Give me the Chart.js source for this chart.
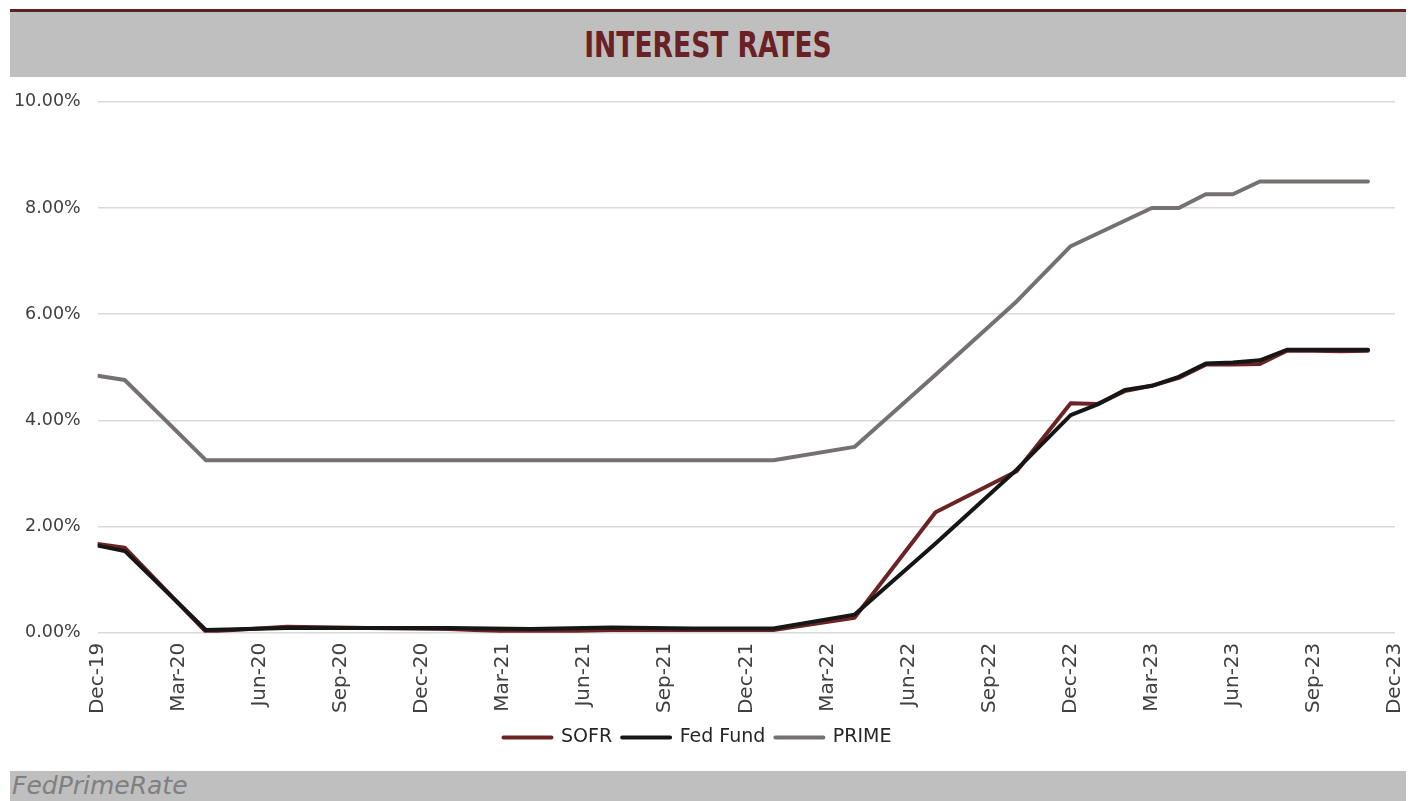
<!DOCTYPE html>
<html>
<head>
<meta charset="utf-8">
<script src="https://cdn.jsdelivr.net/npm/chart.js@4.4.1/dist/chart.umd.min.js"></script>
<style>
  html, body { margin: 0; padding: 0; background: #ffffff; width: 1416px; height: 801px; overflow: hidden; }
  #topline { position: absolute; left: 10px; top: 9px; width: 1396px; height: 3px; background: #5E2222; }
  #banner { position: absolute; left: 10px; top: 12px; width: 1396px; height: 65px; background: #BFBFBF;
            text-align: center; line-height: 65px; }
  #banner span { display: inline-block; transform: scaleX(0.82); transform-origin: center;
            font-family: "DejaVu Sans Condensed", "DejaVu Sans", sans-serif;
            font-weight: bold; font-size: 36px; color: #6A2126; }
  #wrap { position: absolute; left: 0; top: 80px; width: 1416px; height: 691px; }
  #footer { position: absolute; left: 10px; top: 771px; width: 1396px; height: 30px; background: #BFBFBF;
            font-family: "DejaVu Sans", sans-serif; font-style: italic; font-size: 25px; color: #808080;
            line-height: 30px; padding-left: 2px; box-sizing: border-box; }
</style>
</head>
<body>
<div id="topline"></div>
<div id="banner"><span>INTEREST RATES</span></div>
<div id="wrap"><canvas id="c"></canvas></div>
<div id="footer">FedPrimeRate</div>
<script>
// ---- Data ----
const dates = ['Dec-19','Jan-20','Apr-20','Jul-20','Oct-20','Jan-21','Apr-21','Jul-21','Oct-21','Jan-22',
               'Apr-22','Jul-22','Oct-22','Dec-22','Jan-23','Feb-23','Mar-23','Apr-23','May-23','Jun-23',
               'Jul-23','Aug-23','Sep-23','Oct-23','Nov-23'];
const sofr  = [1.67,1.60,0.02,0.11,0.09,0.07,0.01,0.05,0.05,0.05,0.28,2.27,3.04,4.32,4.31,4.55,4.65,4.80,5.05,5.05,5.06,5.31,5.31,5.30,5.31];
const fedFund = [1.64,1.54,0.05,0.09,0.09,0.09,0.07,0.10,0.08,0.08,0.34,1.68,3.07,4.10,4.30,4.57,4.65,4.82,5.07,5.09,5.13,5.33,5.33,5.33,5.33];
const prime = [4.84,4.76,3.25,3.25,3.25,3.25,3.25,3.25,3.25,3.25,3.50,4.86,6.24,7.28,7.52,7.76,8.00,8.00,8.26,8.26,8.50,8.50,8.50,8.50,8.50];
const xTickLabels = ['Dec-19','Mar-20','Jun-20','Sep-20','Dec-20','Mar-21','Jun-21','Sep-21','Dec-21',
                     'Mar-22','Jun-22','Sep-22','Dec-22','Mar-23','Jun-23','Sep-23','Dec-23'];
const yTicks = [0, 2, 4, 6, 8, 10];
const seriesNames = ['SOFR', 'Fed Fund', 'PRIME'];

// month offset from Dec-19
const MON = {Jan:1,Feb:2,Mar:3,Apr:4,May:5,Jun:6,Jul:7,Aug:8,Sep:9,Oct:10,Nov:11,Dec:12};
function monthIndex(s) {
  const [m, y] = s.split('-');
  return (2000 + parseInt(y, 10) - 2019) * 12 + MON[m] - 12;
}
const xs = dates.map(monthIndex);
const toPts = arr => arr.map((v, i) => ({x: xs[i], y: v}));

const FONT = '"DejaVu Sans", sans-serif';
Chart.defaults.font.family = FONT;
Chart.defaults.color = '#404040';

function ds(label, data, color, order) {
  return { label, data: toPts(data), borderColor: color, backgroundColor: color, borderWidth: 4,
           pointRadius: 0, pointHoverRadius: 0, tension: 0, fill: false, order,
           borderJoinStyle: 'round', borderCapStyle: 'round' };
}

new Chart(document.getElementById('c'), {
  type: 'line',
  data: {
    datasets: [
      ds(seriesNames[0], sofr, '#6B2323', 3),
      ds(seriesNames[1], fedFund, '#161616', 2),
      ds(seriesNames[2], prime, '#767171', 1)
    ]
  },
  options: {
    responsive: true,
    maintainAspectRatio: false,
    devicePixelRatio: 1,
    animation: false,
    layout: { padding: { left: 0, right: 21, top: 21.7, bottom: 14 } },
    plugins: {
      title: { display: false },
      tooltip: { enabled: false },
      legend: {
        position: 'bottom',
        labels: {
          boxWidth: 48, boxHeight: 0, padding: 10,
          font: { size: 19, family: FONT }, color: '#262626',
          sort: (a, b) => a.datasetIndex - b.datasetIndex
        }
      }
    },
    scales: {
      x: {
        type: 'linear', min: 0, max: 48,
        afterBuildTicks: (scale) => { scale.ticks = xTickLabels.map((_, i) => ({ value: i * 3 })); },
        ticks: {
          autoSkip: false, maxRotation: 90, minRotation: 90, padding: 10,
          font: { size: 20, family: FONT, lineHeight: 0.5 }, color: '#404040',
          callback: (v) => xTickLabels[Math.round(v / 3)]
        },
        grid: { display: false, drawTicks: false },
        border: { display: false },
        afterFit: (scale) => { scale.height = 85.3; }
      },
      y: {
        min: 0, max: 10,
        afterBuildTicks: (scale) => { scale.ticks = yTicks.map(v => ({ value: v })); },
        ticks: {
          padding: 17, font: { size: 17.5, family: FONT, lineHeight: 0.55 }, color: '#404040',
          callback: (v) => v.toFixed(2) + '%'
        },
        grid: { color: '#D9D9D9', lineWidth: 1.5, drawTicks: false },
        border: { display: false },
        afterFit: (scale) => { scale.width = 97.7; }
      }
    }
  }
});
</script>
</body>
</html>
